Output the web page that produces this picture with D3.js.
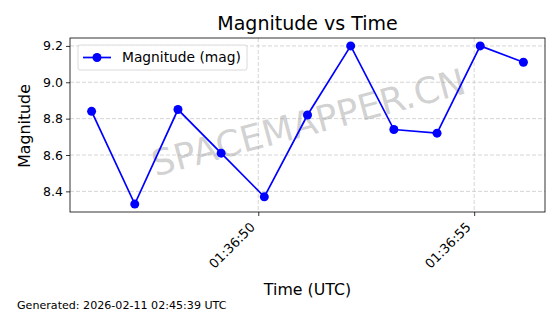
<!DOCTYPE html>
<html>
<head>
<meta charset="utf-8">
<script src="https://cdn.jsdelivr.net/npm/d3@7"></script>
<style>
  body { margin: 0; background: #fff; }
  text { font-family: "DejaVu Sans", sans-serif; }
</style>
</head>
<body>
<svg id="chart" width="560" height="314"></svg>
<script>
// observation times (UTC, seconds past 01:36) and magnitudes
var seconds = [46.14, 47.14, 48.14, 49.14, 50.14, 51.14, 52.14, 53.14, 54.14, 55.14, 56.14];
var magnitudes = [8.84, 8.33, 8.85, 8.61, 8.37, 8.82, 9.20, 8.74, 8.72, 9.20, 9.11];
var xTicks = [50, 55];
var yTicks = [8.4, 8.6, 8.8, 9.0, 9.2];

var svg = d3.select("#chart");
var m = {left: 70, right: 545, top: 38, bottom: 212};

var x = d3.scaleLinear().domain([45.64, 56.64]).range([m.left, m.right]);
var y = d3.scaleLinear().domain([8.2865, 9.2435]).range([m.bottom, m.top]);

var fmt = function(s) { return "01:36:" + d3.format("02d")(s); };

// grid
svg.append("g").selectAll("line").data(yTicks).enter().append("line")
  .attr("x1", m.left).attr("x2", m.right)
  .attr("y1", function(d) { return y(d); }).attr("y2", function(d) { return y(d); })
  .attr("stroke", "#cccccc").attr("stroke-width", 0.8).attr("stroke-dasharray", "4,2");
svg.append("g").selectAll("line").data(xTicks).enter().append("line")
  .attr("y1", m.top).attr("y2", m.bottom)
  .attr("x1", function(d) { return x(d); }).attr("x2", function(d) { return x(d); })
  .attr("stroke", "#cccccc").attr("stroke-width", 0.8).attr("stroke-dasharray", "4,2");

// watermark
svg.append("text")
  .attr("transform", "translate(309,125) rotate(-15)")
  .attr("text-anchor", "middle").attr("dominant-baseline", "middle")
  .attr("font-size", 36).attr("fill", "#999").attr("fill-opacity", 0.45)
  .text("SPACEMAPPER.CN");

// axes
var yAxis = svg.append("g").attr("transform", "translate(" + m.left + ",0)")
  .call(d3.axisLeft(y).tickValues(yTicks).tickFormat(d3.format(".1f")).tickSize(4).tickPadding(3));
var xAxis = svg.append("g").attr("transform", "translate(0," + m.bottom + ")")
  .call(d3.axisBottom(x).tickValues(xTicks).tickFormat(fmt).tickSize(4).tickPadding(3));
[xAxis, yAxis].forEach(function(a) {
  a.select(".domain").remove();
  a.selectAll("text").attr("font-size", 12.5).attr("fill", "#000").attr("font-family", "DejaVu Sans");
  a.selectAll("line").attr("stroke", "#000").attr("stroke-width", 0.8);
});
xAxis.selectAll("text")
  .attr("font-size", 13)
  .attr("text-anchor", "end").attr("dy", null).attr("y", 0)
  .attr("transform", "translate(-3,16) rotate(-45)");

svg.append("rect").attr("x", m.left).attr("y", m.top)
  .attr("width", m.right - m.left).attr("height", m.bottom - m.top)
  .attr("fill", "none").attr("stroke", "#000").attr("stroke-width", 0.8);

// series
var pts = seconds.map(function(s, i) { return [s, magnitudes[i]]; });
svg.append("path").datum(pts)
  .attr("d", d3.line().x(function(d) { return x(d[0]); }).y(function(d) { return y(d[1]); }))
  .attr("fill", "none").attr("stroke", "#0000ff").attr("stroke-width", 1.7);
svg.append("g").selectAll("circle").data(pts).enter().append("circle")
  .attr("cx", function(d) { return x(d[0]); }).attr("cy", function(d) { return y(d[1]); })
  .attr("r", 4.5).attr("fill", "#0000ff");

// legend
var lg = svg.append("g").attr("transform", "translate(78,45)");
lg.append("rect").attr("width", 169).attr("height", 25).attr("rx", 2)
  .attr("fill", "#fff").attr("fill-opacity", 0.8).attr("stroke", "#d0d0d0").attr("stroke-width", 0.8);
lg.append("line").attr("x1", 5).attr("x2", 33).attr("y1", 12.5).attr("y2", 12.5)
  .attr("stroke", "#0000ff").attr("stroke-width", 1.7);
lg.append("circle").attr("cx", 19).attr("cy", 12.5).attr("r", 4.5).attr("fill", "#0000ff");
lg.append("text").attr("x", 44).attr("y", 17).attr("font-size", 13.8).text("Magnitude (mag)");

// titles
svg.append("text").attr("x", 307.5).attr("y", 30).attr("text-anchor", "middle")
  .attr("font-size", 19).text("Magnitude vs Time");
svg.append("text").attr("x", 307.5).attr("y", 295).attr("text-anchor", "middle")
  .attr("font-size", 15.8).text("Time (UTC)");
svg.append("text").attr("transform", "translate(30,126) rotate(-90)").attr("text-anchor", "middle")
  .attr("font-size", 15.8).text("Magnitude");
svg.append("text").attr("x", 17).attr("y", 309).attr("font-size", 11.1)
  .text("Generated: 2026-02-11 02:45:39 UTC");
</script>
</body>
</html>
